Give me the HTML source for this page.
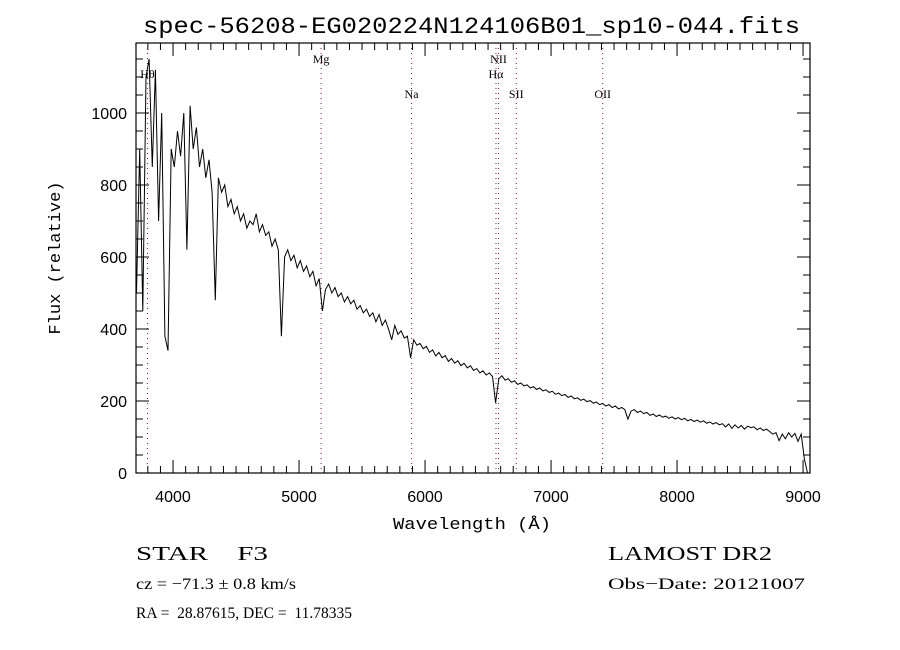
<!DOCTYPE html>
<html><head><meta charset="utf-8"><style>
html,body{margin:0;padding:0;background:#fff;}
svg{display:block;}
text{fill:#000;white-space:pre;}
.t{font-family:"Liberation Sans",sans-serif;font-size:16px;}
.s{font-family:"Liberation Serif",serif;}
</style></head><body>
<svg id="chart" width="900" height="650" viewBox="0 0 900 650">
<text x="143" y="33" textLength="657" lengthAdjust="spacingAndGlyphs" font-family="Liberation Mono,monospace" font-size="23">spec-56208-EG020224N124106B01_sp10-044.fits</text>
<rect x="136" y="43" width="674" height="430" fill="none" stroke="#000" stroke-width="1.2"/>
<g id="ticks"></g>
<g id="lines"></g>
<path id="spec" fill="none" stroke="#000" stroke-width="1"/>
<text x="393" y="529" textLength="158" lengthAdjust="spacingAndGlyphs" font-family="Liberation Mono,monospace" font-size="17">Wavelength (Å)</text>
<text transform="translate(60,258) rotate(-90)" text-anchor="middle" font-family="Liberation Mono,monospace" font-size="17">Flux (relative)</text>
<text class="s" x="136" y="560" font-size="20" textLength="132" lengthAdjust="spacingAndGlyphs">STAR    F3</text>
<text class="s" x="136" y="589" font-size="16" textLength="160" lengthAdjust="spacingAndGlyphs">cz = −71.3 ± 0.8 km/s</text>
<text class="s" x="136" y="618" font-size="16" textLength="216" lengthAdjust="spacingAndGlyphs">RA =  28.87615, DEC =  11.78335</text>
<text class="s" x="608" y="560" font-size="20" textLength="164" lengthAdjust="spacingAndGlyphs">LAMOST DR2</text>
<text class="s" x="608" y="589" font-size="16" textLength="197" lengthAdjust="spacingAndGlyphs">Obs−Date: 20121007</text>
</svg>
<script>
const xTicks=[4000,5000,6000,7000,8000,9000];
const yTicks=[0,200,400,600,800,1000];
const lineNames=["Hθ","Mg","Na","Hα","NII","SII","OII"];
const lineWaves=[3797,5175,5893,6563,6583,6724,7410];
const waveStart=3710, waveStep=25;
const flux=[500,900,450,1100,1150,850,1120,700,1000,380,340,900,850,950,880,1000,620,1020,900,960,850,900,820,870,780,480,820,780,800,740,760,720,740,700,720,680,700,690,720,670,690,660,670,630,650,620,380,600,620,590,605,570,590,560,575,545,560,520,540,450,510,525,500,515,490,500,475,490,470,480,455,465,445,455,435,445,420,440,410,425,400,370,410,385,395,375,380,320,370,355,360,345,352,335,342,325,335,320,326,310,318,305,312,298,305,292,298,285,290,278,284,272,278,268,195,262,270,258,262,252,256,246,250,242,245,236,240,232,236,228,231,224,227,219,222,215,218,210,214,206,209,202,205,198,201,194,197,190,193,186,190,182,186,178,182,176,150,172,176,168,172,165,168,160,164,157,161,155,158,152,156,150,154,148,152,145,149,143,147,141,145,138,142,136,140,134,137,128,136,124,134,125,132,122,130,126,128,120,125,118,122,115,108,112,90,108,95,112,100,110,88,108,40,0];
const NS="http://www.w3.org/2000/svg";
const X0=136,X1=810,Y0=473,Y1=43,WMIN=3706,WMAX=3706+674/0.126,FMAX=(473-43)/0.36;
function xs(w){return X0+(w-WMIN)/(WMAX-WMIN)*(X1-X0);}
function ys(f){return Y0-f/FMAX*(Y0-Y1);}
function mk(tag,attrs,parent){const e=document.createElementNS(NS,tag);for(const k in attrs)e.setAttribute(k,attrs[k]);parent.appendChild(e);return e;}
const tg=document.getElementById('ticks');
for(let w=3800;w<=9000;w+=100){const x=xs(w),L=(w%1000===0)?13:7;
 const a=mk('line',{x1:x,x2:x,y1:Y0,y2:Y0-L,stroke:'#000'},tg);
 
 
 const b=mk('line',{x1:x,x2:x,y1:Y1,y2:Y1+L,stroke:'#000'},tg);
 
 }
xTicks.forEach(w=>{const t=mk('text',{x:xs(w),y:502,'text-anchor':'middle',class:'t'},tg);t.textContent=w;
 
 });
for(let f=0;f<=1150;f+=50){const y=ys(f),L=(f%200===0)?13:7;
 const a=mk('line',{x1:X0,x2:X0+L,y1:y,y2:y,stroke:'#000'},tg);
 
 
 const b=mk('line',{x1:X1,x2:X1-L,y1:y,y2:y,stroke:'#000'},tg);
 
 }
yTicks.forEach(f=>{const t=mk('text',{x:127,y:ys(f)+6,'text-anchor':'end',class:'t'},tg);t.textContent=f;
 
 });
const lg=document.getElementById('lines');
const labelY=[78,63,98,78,63,98,98];
lineNames.forEach((n,i)=>{const x=xs(lineWaves[i]);
 const l=mk('line',{x1:x,x2:x,y1:Y1,y2:Y0,stroke:'#8b1a1a','stroke-width':1,'stroke-dasharray':'1,4'},lg);
 
 
 const t=mk('text',{x:x,y:labelY[i],'text-anchor':'middle',class:'s','font-size':12},lg);t.textContent=n;
 
 });
let d='';flux.forEach((f,i)=>{const w=waveStart+i*waveStep;const x=Math.min(xs(w),X1),y=Math.max(ys(f),Y1);d+=(i?'L':'M')+x.toFixed(1)+','+y.toFixed(1);});
document.getElementById('spec').setAttribute('d',d);
</script>
</body></html>
